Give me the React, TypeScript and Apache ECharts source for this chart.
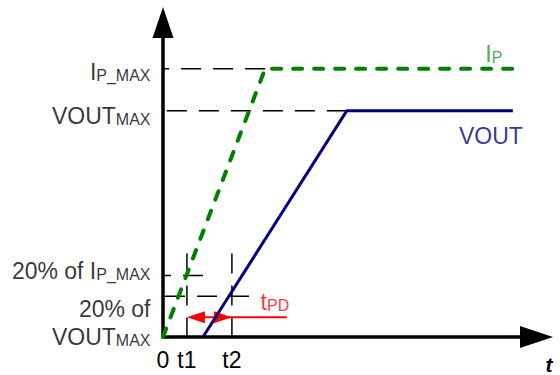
import React, { useEffect, useRef } from 'react';
import * as echarts from 'echarts';

const FONT = 'Liberation Sans, Arial, Helvetica, sans-serif';

// Time axis runs 0..100 (arbitrary units), level axis runs 0..100.
const timeTicks = [0, 6.7, 19.3];
const timeTickLabels = ['0', 't1', 't2'];

// I_P current ramp and VOUT ramp
const ipTime = [0, 28.6, 98];
const ipLevel = [0, 89.7, 89.7];
const voutTime = [11.2, 51.5, 98];
const voutLevel = [0, 75.7, 75.7];

// Horizontal reference levels: IP_MAX, VOUT_MAX, 20% of IP_MAX, 20% of VOUT_MAX
const levelValues = [89.7, 75.7, 20.6, 13.6];
const levelGuideEnd = [28.6, 51.5, 11.2, 24.1];
const levelLabels = [
  '{m|I}{s|P_MAX}',
  '{m|VOUT}{s|MAX}',
  '{m|20% of I}{s|P_MAX}',
  '{m|20% of}\n{m|VOUT}{s|MAX}',
];

// Vertical guides at t1, t2
const markerTimes = [6.7, 19.3];
const markerTop = 27.9;

// tPD arrow: from t1 to t2, tail extends to tpdTail
const tpdSpan = [6.7, 19.3];
const tpdTail = 34.7;
const tpdLevel = 6.6;

// layout-only offsets for the level labels
const levelLabelDy = [1, 3, -7, 24];

const GREEN = '#008000';
const GREEN_TEXT = '#1f9a2a';
const NAVY = '#000080';
const RED = '#ff0000';

function rich(color: string) {
  return {
    m: { fontSize: 23, fontFamily: FONT, color, verticalAlign: 'bottom', lineHeight: 28 },
    s: { fontSize: 16, fontFamily: FONT, color, verticalAlign: 'bottom', lineHeight: 28 },
  };
}

export default function App() {
  const ref = useRef<HTMLDivElement>(null);

  useEffect(() => {
    document.body.style.margin = '0';
    if (!ref.current) return;
    const chart = echarts.init(ref.current, null, { renderer: 'svg' });

    const dashed = {
      color: '#000',
      width: 1.5,
      type: [20, 12] as number[],
    };

    const guideSeries: any[] = [];
    levelValues.forEach((v, i) => {
      guideSeries.push({
        type: 'line',
        silent: true,
        symbol: 'none',
        z: 1,
        lineStyle: dashed,
        data: [
          [levelGuideEnd[i], v],
          [0, v],
        ],
      });
    });
    markerTimes.forEach((t) => {
      guideSeries.push({
        type: 'line',
        silent: true,
        symbol: 'none',
        z: 1,
        lineStyle: dashed,
        data: [
          [t, markerTop],
          [t, 0],
        ],
      });
    });

    const tickMap = new Map<number, string>();
    timeTicks.forEach((v, i) => tickMap.set(v, timeTickLabels[i]));

    const labelData: any[] = levelValues.map((v, i) => ({
      value: [0, v],
      label: {
        show: true,
        position: 'left',
        distance: 12,
        align: 'right',
        offset: [0, levelLabelDy[i]],
        formatter: levelLabels[i],
        rich: rich('#000'),
      },
    }));
    labelData.push({
      value: [ipTime[2], ipLevel[2]],
      label: {
        show: true,
        position: 'inside',
        offset: [-19, -17],
        formatter: '{m|I}{s|P}',
        rich: rich(GREEN_TEXT),
      },
    });
    labelData.push({
      value: [voutTime[2], voutLevel[2]],
      label: {
        show: true,
        position: 'inside',
        offset: [-22, 23],
        formatter: '{m|VOUT}',
        rich: rich(NAVY),
      },
    });
    labelData.push({
      value: [tpdTail, tpdLevel],
      label: {
        show: true,
        position: 'inside',
        offset: [-12, -18],
        formatter: '{m|t}{s|PD}',
        rich: rich(RED),
      },
    });

    chart.setOption({
      animation: false,
      grid: { left: 163, right: 40, top: 38, bottom: 36 },
      xAxis: {
        type: 'value',
        min: 0,
        max: 100,
        name: 't',
        nameLocation: 'end',
        nameGap: 29,
        nameTextStyle: {
          fontFamily: FONT,
          fontSize: 21,
          fontStyle: 'italic',
          fontWeight: 'bold',
          color: '#000',
          align: 'center',
          verticalAlign: 'top',
          padding: [17, 0, 0, 0],
        },
        splitLine: { show: false },
        axisTick: { show: false },
        axisLine: {
          show: true,
          onZero: false,
          lineStyle: { color: '#000', width: 3.5 },
          symbol: ['none', 'triangle'],
          symbolSize: [22, 33],
          symbolOffset: [0, 16.5],
        },
        axisLabel: {
          show: true,
          customValues: timeTicks,
          formatter: (v: number) => tickMap.get(v) ?? '',
          fontFamily: FONT,
          fontSize: 23,
          color: '#000',
          margin: 11,
        },
      },
      yAxis: {
        type: 'value',
        min: 0,
        max: 100,
        splitLine: { show: false },
        axisTick: { show: false },
        axisLabel: { show: false },
        axisLine: {
          show: true,
          onZero: false,
          lineStyle: { color: '#000', width: 3.5 },
          symbol: ['none', 'triangle'],
          symbolSize: [21, 31],
          symbolOffset: [0, 15.5],
        },
      },
      series: [
        ...guideSeries,
        {
          type: 'custom',
          silent: true,
          z: 2,
          encode: { x: [0, 1, 2], y: 3 },
          data: [[tpdSpan[0], tpdSpan[1], tpdTail, tpdLevel]],
          renderItem: (params: any, api: any) => {
            const y = api.value(3);
            const a = api.coord([api.value(0), y]);
            const b = api.coord([api.value(1), y]);
            const e = api.coord([api.value(2), y]);
            return {
              type: 'group',
              children: [
                {
                  type: 'line',
                  shape: { x1: a[0] + 4, y1: a[1], x2: e[0], y2: e[1] },
                  style: { stroke: RED, lineWidth: 2 },
                },
                {
                  type: 'polygon',
                  shape: { points: [[a[0], a[1]], [a[0] + 18, a[1] - 6], [a[0] + 18, a[1] + 6]] },
                  style: { fill: RED },
                },
                {
                  type: 'polygon',
                  shape: { points: [[b[0], b[1]], [b[0] - 18, b[1] - 6], [b[0] - 18, b[1] + 6]] },
                  style: { fill: RED },
                },
              ],
            };
          },
        },
        {
          name: 'IP',
          type: 'line',
          silent: true,
          symbol: 'none',
          z: 3,
          lineStyle: { color: GREEN, width: 4, type: [9, 12], cap: 'round' },
          data: ipTime.map((t, i) => [t, ipLevel[i]]),
        },
        {
          name: 'VOUT',
          type: 'line',
          silent: true,
          symbol: 'none',
          z: 4,
          lineStyle: { color: NAVY, width: 3 },
          data: voutTime.map((t, i) => [t, voutLevel[i]]),
        },
        {
          type: 'scatter',
          silent: true,
          z: 5,
          symbolSize: 1,
          clip: false,
          itemStyle: { color: 'rgba(0,0,0,0)' },
          data: labelData,
        },
      ],
    });

    return () => chart.dispose();
  }, []);

  return <div ref={ref} style={{ width: 560, height: 375 }} />;
}
